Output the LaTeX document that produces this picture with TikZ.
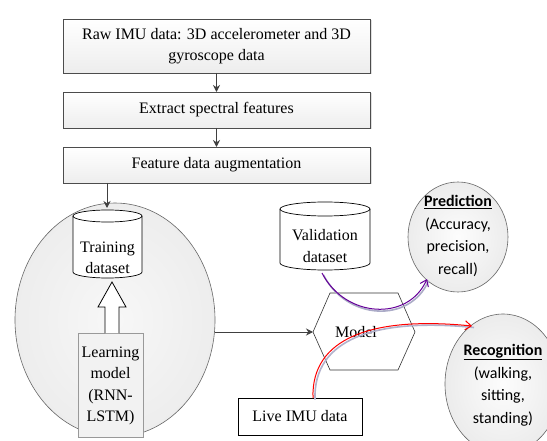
\documentclass[tikz,border=0pt]{standalone}
\usepackage{fontspec}
\setmainfont{Liberation Serif}
\setsansfont{Carlito}
\usetikzlibrary{arrows.meta,shadows}
\begin{document}
\begin{tikzpicture}[x=1pt,y=-1pt,
  flowbox/.style={draw=black!70,line width=0.6pt,top color=white,bottom color=gray!14,
    drop shadow={opacity=0.25,shadow xshift=1.5pt,shadow yshift=-1.5pt}},
  conn/.style={draw=black!75,line width=1pt,-{Stealth[length=7pt,width=7pt]}},
  txt/.style={font=\fontsize{16}{21.5}\selectfont,align=center,inner sep=0pt},
  stxt/.style={font=\sffamily\fontsize{16}{22.5}\selectfont,align=center,inner sep=0pt},
  bubble/.style={draw=black!60,line width=0.6pt,inner color=gray!2,outer color=gray!15},
  cyl/.style={draw=black,line width=0.7pt,fill=white},
  curvetip/.style={-{Straight Barb[length=6pt,width=9pt]}}]
\useasboundingbox (0,0) rectangle (547,441);
\fill[white] (0,0) rectangle (547,441);
% top boxes
\path[flowbox] (63,19) rectangle (370,73);
\node[txt] (raw) at (216.5,46) {Raw IMU data: 3D accelerometer and 3D\\gyroscope data};
\path[flowbox] (63,92) rectangle (370,128);
\node[txt] (ext) at (216.5,110) {Extract spectral features};
\path[flowbox] (63,147) rectangle (370,183);
\node[txt] (aug) at (216.5,165) {Feature data augmentation};
\coordinate (rawb) at (216.5,73);
\coordinate (extt) at (216.5,92);
\coordinate (extb) at (216.5,128);
\coordinate (augt) at (216.5,147);
\draw[conn] (rawb) -- (extt);
\draw[conn] (extb) -- (augt);
% big ellipse
\path[bubble,inner color=gray!6,outer color=gray!14] (115,320) ellipse [x radius=100,y radius=117];
\coordinate (bigR) at (215,332);
% training cylinder
\path[cyl] (73,216) -- (73,272) arc[start angle=180,end angle=0,x radius=34.5,y radius=6] -- (142,216) arc[start angle=0,end angle=-180,x radius=34.5,y radius=6] -- cycle;
\draw[line width=0.7pt] (73,216) arc[start angle=180,end angle=0,x radius=34.5,y radius=6];
\node[txt] (train) at (107.5,258) {Training\\dataset};
\coordinate (augb) at (107,183);
\coordinate (traint) at (107,208);
\draw[conn] (augb) -- (traint);
% learning model
\path[draw=gray!80,line width=0.7pt,fill=gray!10] (78,333) rectangle (143,437);
\node[txt] (learn) at (110.5,386) {Learning\\model\\(RNN-\\LSTM)};
% hollow arrow
\draw[line width=0.8pt,fill=white] (105,333) -- (105,307) -- (98,307) -- (112,282) -- (126,307) -- (119,307) -- (119,333);
% model hexagon
\draw[draw=black!80,line width=0.6pt,fill=white] (313,332) -- (330,293) -- (398,293) -- (415,332) -- (398,370) -- (330,370) -- cycle;
\node[txt] (model) at (356,332) {Model};
\coordinate (modelL) at (313,332);
\draw[conn] (bigR) -- (modelL);
% validation cylinder
\path[cyl] (280,209) -- (280,263) arc[start angle=180,end angle=0,x radius=45,y radius=7] -- (370,209) arc[start angle=0,end angle=-180,x radius=45,y radius=7] -- cycle;
\draw[line width=0.7pt] (280,209) arc[start angle=180,end angle=0,x radius=45,y radius=7];
\node[txt] (valid) at (325,246) {Validation\\dataset};
% prediction
\path[bubble] (458,237) ellipse [x radius=50,y radius=55];
\node[stxt] (pred) at (458,236) {\textbf{\underline{Prediction}}\\(Accuracy,\\precision,\\recall)};
% recognition
\path[bubble] (503,384) ellipse [x radius=58,y radius=70];
\node[stxt] (recog) at (503,385) {\textbf{\underline{Recognition}}\\(walking,\\sitting,\\standing)};
% live IMU
\draw[line width=0.6pt,fill=white] (238,398) rectangle (362,435);
\node[txt] (live) at (300,416.5) {Live IMU data};
% curves
\coordinate (vb) at (322,273);
\coordinate (pin) at (427,279);
\coordinate (lt) at (313,398);
\coordinate (rin) at (472,326);
\draw[blue!20!gray!55,line width=1.6pt] ([shift={(1.5,2)}]vb) .. controls ([shift={(1.5,2)}]345,318) and ([shift={(1.5,2)}]408,322) .. ([shift={(1.5,2)}]pin);
\draw[violet!80!blue,line width=1pt,curvetip] (vb) .. controls (345,318) and (408,322) .. (pin);
\draw[blue!20!gray!50,line width=1.6pt] ([shift={(2,1.5)}]lt) .. controls ([shift={(2,1.5)}]311,338) and ([shift={(2,1.5)}]372,316) .. ([shift={(2,1.5)}]rin);
\draw[red,line width=1pt,curvetip] (lt) .. controls (311,338) and (372,316) .. (rin);
\end{tikzpicture}
\end{document}
